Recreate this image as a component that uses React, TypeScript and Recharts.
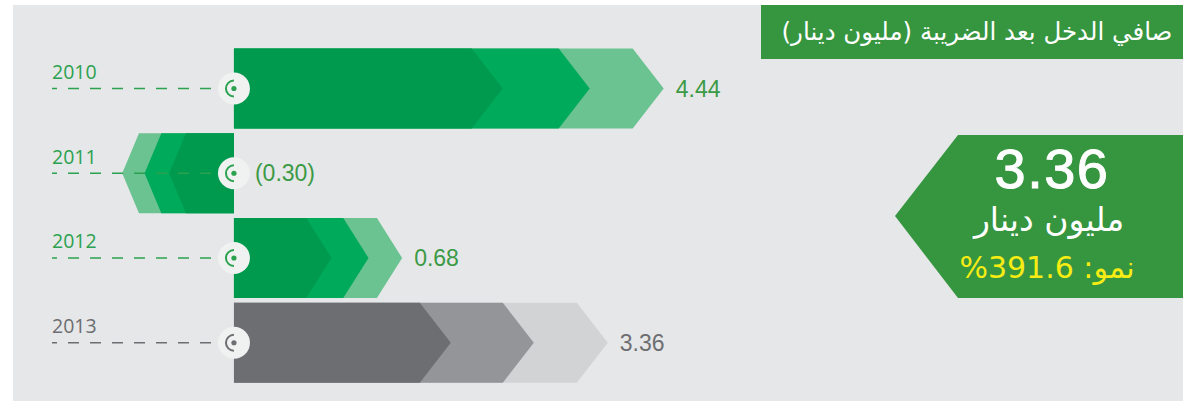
import React from "react";
import { BarChart, Bar, XAxis, YAxis } from "recharts";

// values (million JOD, net income after tax)
const years = ["2010", "2011", "2012", "2013"];
const netIncome = [4.44, -0.3, 0.68, 3.36];

const titleText = "صافي الدخل بعد الضريبة (مليون دينار)";
const headlineValue = "3.36";
const headlineUnit = "مليون دينار";
const growthText = "نمو: 391.6%";

const data = years.map((year, i) => ({ year, income: netIncome[i] }));

const GREEN = { dark: "#009a4e", mid: "#00aa5b", light: "#6bc391", text: "#3b9a46", axis: "#2ba24f" };
const GREY = { dark: "#6d6e71", mid: "#939598", light: "#d1d3d4", text: "#6d6e71", axis: "#6d6e71" };
const BOX_GREEN = "#36953f";
const PANEL = "#e6e7e8";

const fmt = (v: number) => (v < 0 ? `(${Math.abs(v).toFixed(2)})` : v.toFixed(2));
const paletteFor = (year: string) => (year === years[years.length - 1] ? GREY : GREEN);

// chevron-shaped bar, three overlapping layers + baseline marker + value label
const ChevronBar = (props: any) => {
  const { x, y, width, height, payload } = props;
  const v = payload.income;
  const pal = paletteFor(payload.year);
  const left = Math.min(x, x + width);
  const right = Math.max(x, x + width);
  const dir = v < 0 ? -1 : 1;
  const base = dir > 0 ? left : right;
  const tip = dir > 0 ? right : left;
  const len = Math.abs(tip - base);
  const y0 = y;
  const y1 = y + height;
  const cy = y + height / 2;
  const depth = Math.min(31, len * 0.15);

  const chevron = (t: number) => {
    const d = Math.min(depth, Math.abs(t - base));
    return `${base},${y0} ${t - dir * d},${y0} ${t},${cy} ${t - dir * d},${y1} ${base},${y1}`;
  };
  const midTip = tip - dir * Math.min(len * 0.2, 74);
  const darkTip = tip - dir * Math.min(len * 0.42, 161);

  const labelX = dir > 0 ? tip + 12 : base + 21;

  return (
    <g>
      <polygon points={chevron(tip)} fill={pal.light} />
      <polygon points={chevron(midTip)} fill={pal.mid} />
      <polygon points={chevron(darkTip)} fill={pal.dark} />
      <line
        x1={52}
        y1={cy}
        x2={base - 9}
        y2={cy}
        stroke={pal.axis}
        strokeWidth={1.5}
        strokeDasharray="11 11"
        strokeDashoffset={6}
      />
      <circle cx={base} cy={cy} r={16} fill="#f0f1f1" />
      <path
        d={`M ${base} ${cy - 8} A 8 8 0 0 0 ${base} ${cy + 8}`}
        fill="none"
        stroke={pal.axis}
        strokeWidth={2}
      />
      <circle cx={base} cy={cy} r={2.6} fill={pal.axis} />
      <text
        x={labelX}
        y={cy + 8}
        fill={pal.text}
        fontSize={23}
        fontFamily="Liberation Sans, Arial, sans-serif"
      >
        {fmt(v)}
      </text>
    </g>
  );
};

const YearTick = ({ x, y, payload }: any) => (
  <text
    x={x + 22}
    y={y - 10}
    fill={paletteFor(payload.value).axis}
    fontSize={19.5}
    fontFamily="Open Sans, sans-serif"
  >
    {payload.value}
  </text>
);

export default function App() {
  return (
    <div style={{ position: "absolute", left: 0, top: 0, width: 1183, height: 402, background: "#fff" }}>
      <div style={{ position: "absolute", left: 13, top: 5, width: 1170, height: 396, background: PANEL }} />
      <div style={{ position: "absolute", left: 0, top: 0 }}>
        <BarChart
          width={1183}
          height={402}
          data={data}
          layout="vertical"
          margin={{ top: 46.5, right: 493, bottom: 16.5, left: 0 }}
        >
          <XAxis type="number" scale="sqrt" domain={[-1, 5]} hide />
          <YAxis
            type="category"
            dataKey="year"
            width={30}
            axisLine={false}
            tickLine={false}
            tickSize={0}
            tickMargin={0}
            tick={<YearTick />}
          />
          <Bar dataKey="income" barSize={80} shape={<ChevronBar />} isAnimationActive={false} />
        </BarChart>
      </div>
      <svg width={1183} height={402} style={{ position: "absolute", left: 0, top: 0 }}>
        <rect x={761} y={5} width={422} height={54} fill={BOX_GREEN} />
        <text
          x={977}
          y={40}
          fill="#fff"
          fontSize={24.5}
          textAnchor="middle"
          direction="rtl"
          fontFamily="DejaVu Sans, sans-serif"
        >
          {titleText}
        </text>
        <polygon points="895,216 958,135 1183,135 1183,298 958,298" fill={BOX_GREEN} />
        <text
          x={1052}
          y={188}
          fill="#fff"
          stroke="#fff"
          strokeWidth={1}
          fontSize={56}
          letterSpacing={1.5}
          textAnchor="middle"
          fontFamily="Liberation Sans, Arial, sans-serif"
        >
          {headlineValue}
        </text>
        <text
          x={1049}
          y={231}
          fill="#fff"
          fontSize={33}
          textAnchor="middle"
          direction="rtl"
          fontFamily="DejaVu Sans, sans-serif"
        >
          {headlineUnit}
        </text>
        <text
          x={1047}
          y={278}
          fill="#f7ec13"
          fontSize={30}
          textAnchor="middle"
          direction="rtl"
          fontFamily="DejaVu Sans, sans-serif"
        >
          {growthText}
        </text>
      </svg>
    </div>
  );
}
